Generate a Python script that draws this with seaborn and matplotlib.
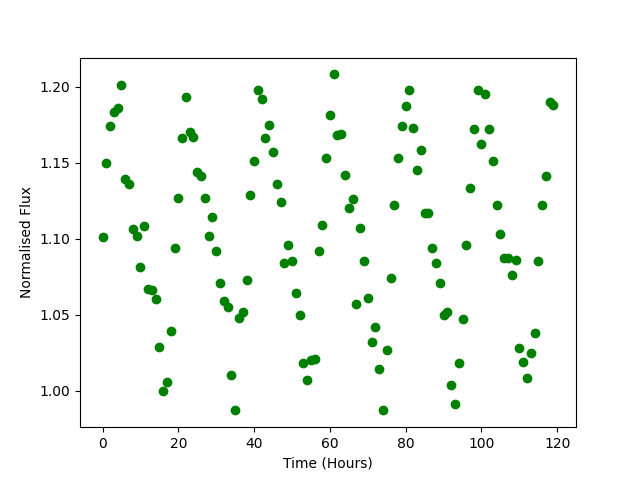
import matplotlib
matplotlib.use('Agg')
import matplotlib.pyplot as plt
import pandas as pd
import seaborn as sns

# Observation times (hours)
time_hours = [
    0, 1, 2, 3, 4, 5, 6, 7, 8, 9, 10, 11, 12, 13, 14, 15, 16, 17, 18, 19,
    20, 21, 22, 23, 24, 25, 26, 27, 28, 29, 30, 31, 32, 33, 34, 35, 36, 37, 38, 39,
    40, 41, 42, 43, 44, 45, 46, 47, 48, 49, 50, 51, 52, 53, 54, 55, 56, 57, 58, 59,
    60, 61, 62, 63, 64, 65, 66, 67, 68, 69, 70, 71, 72, 73, 74, 75, 76, 77, 78, 79,
    80, 81, 82, 83, 84, 85, 86, 87, 88, 89, 90, 91, 92, 93, 94, 95, 96, 97, 98, 99,
    100, 101, 102, 103, 104, 105, 106, 107, 108, 109, 110, 111, 112, 113, 114, 115,
    116, 117, 118, 119,
]

# Normalised flux
flux = [
    1.101, 1.150, 1.174, 1.183, 1.186, 1.201, 1.139, 1.136, 1.106, 1.102,
    1.081, 1.108, 1.067, 1.066, 1.060, 1.029, 1.000, 1.006, 1.039, 1.094,
    1.127, 1.166, 1.193, 1.170, 1.167, 1.144, 1.141, 1.127, 1.102, 1.114,
    1.092, 1.071, 1.059, 1.055, 1.010, 0.987, 1.048, 1.052, 1.073, 1.129,
    1.151, 1.198, 1.192, 1.166, 1.175, 1.157, 1.136, 1.124, 1.084, 1.096,
    1.085, 1.064, 1.050, 1.018, 1.007, 1.020, 1.021, 1.092, 1.109, 1.153,
    1.181, 1.208, 1.168, 1.169, 1.142, 1.120, 1.126, 1.057, 1.107, 1.085,
    1.061, 1.032, 1.042, 1.014, 0.987, 1.027, 1.074, 1.122, 1.153, 1.174,
    1.187, 1.198, 1.173, 1.145, 1.158, 1.117, 1.117, 1.094, 1.084, 1.071,
    1.050, 1.052, 1.004, 0.991, 1.018, 1.047, 1.096, 1.133, 1.172, 1.198,
    1.162, 1.195, 1.172, 1.151, 1.122, 1.103, 1.087, 1.087, 1.076, 1.086,
    1.028, 1.019, 1.008, 1.025, 1.038, 1.085, 1.122, 1.141, 1.190, 1.188,
]

df = pd.DataFrame({'time': time_hours, 'flux': flux})

fig, ax = plt.subplots(figsize=(6.4, 4.8), dpi=100)
sns.scatterplot(data=df, x='time', y='flux', color='green', s=36,
                linewidth=1, edgecolor='green', ax=ax)
ax.set_xlabel('Time (Hours)')
ax.set_ylabel('Normalised Flux')
ax.set_xticks([0, 20, 40, 60, 80, 100, 120])
ax.set_yticks([1.00, 1.05, 1.10, 1.15, 1.20])
ax.set_yticklabels(['1.00', '1.05', '1.10', '1.15', '1.20'])

plt.savefig('out.png', dpi=100)
plt.close(fig)
